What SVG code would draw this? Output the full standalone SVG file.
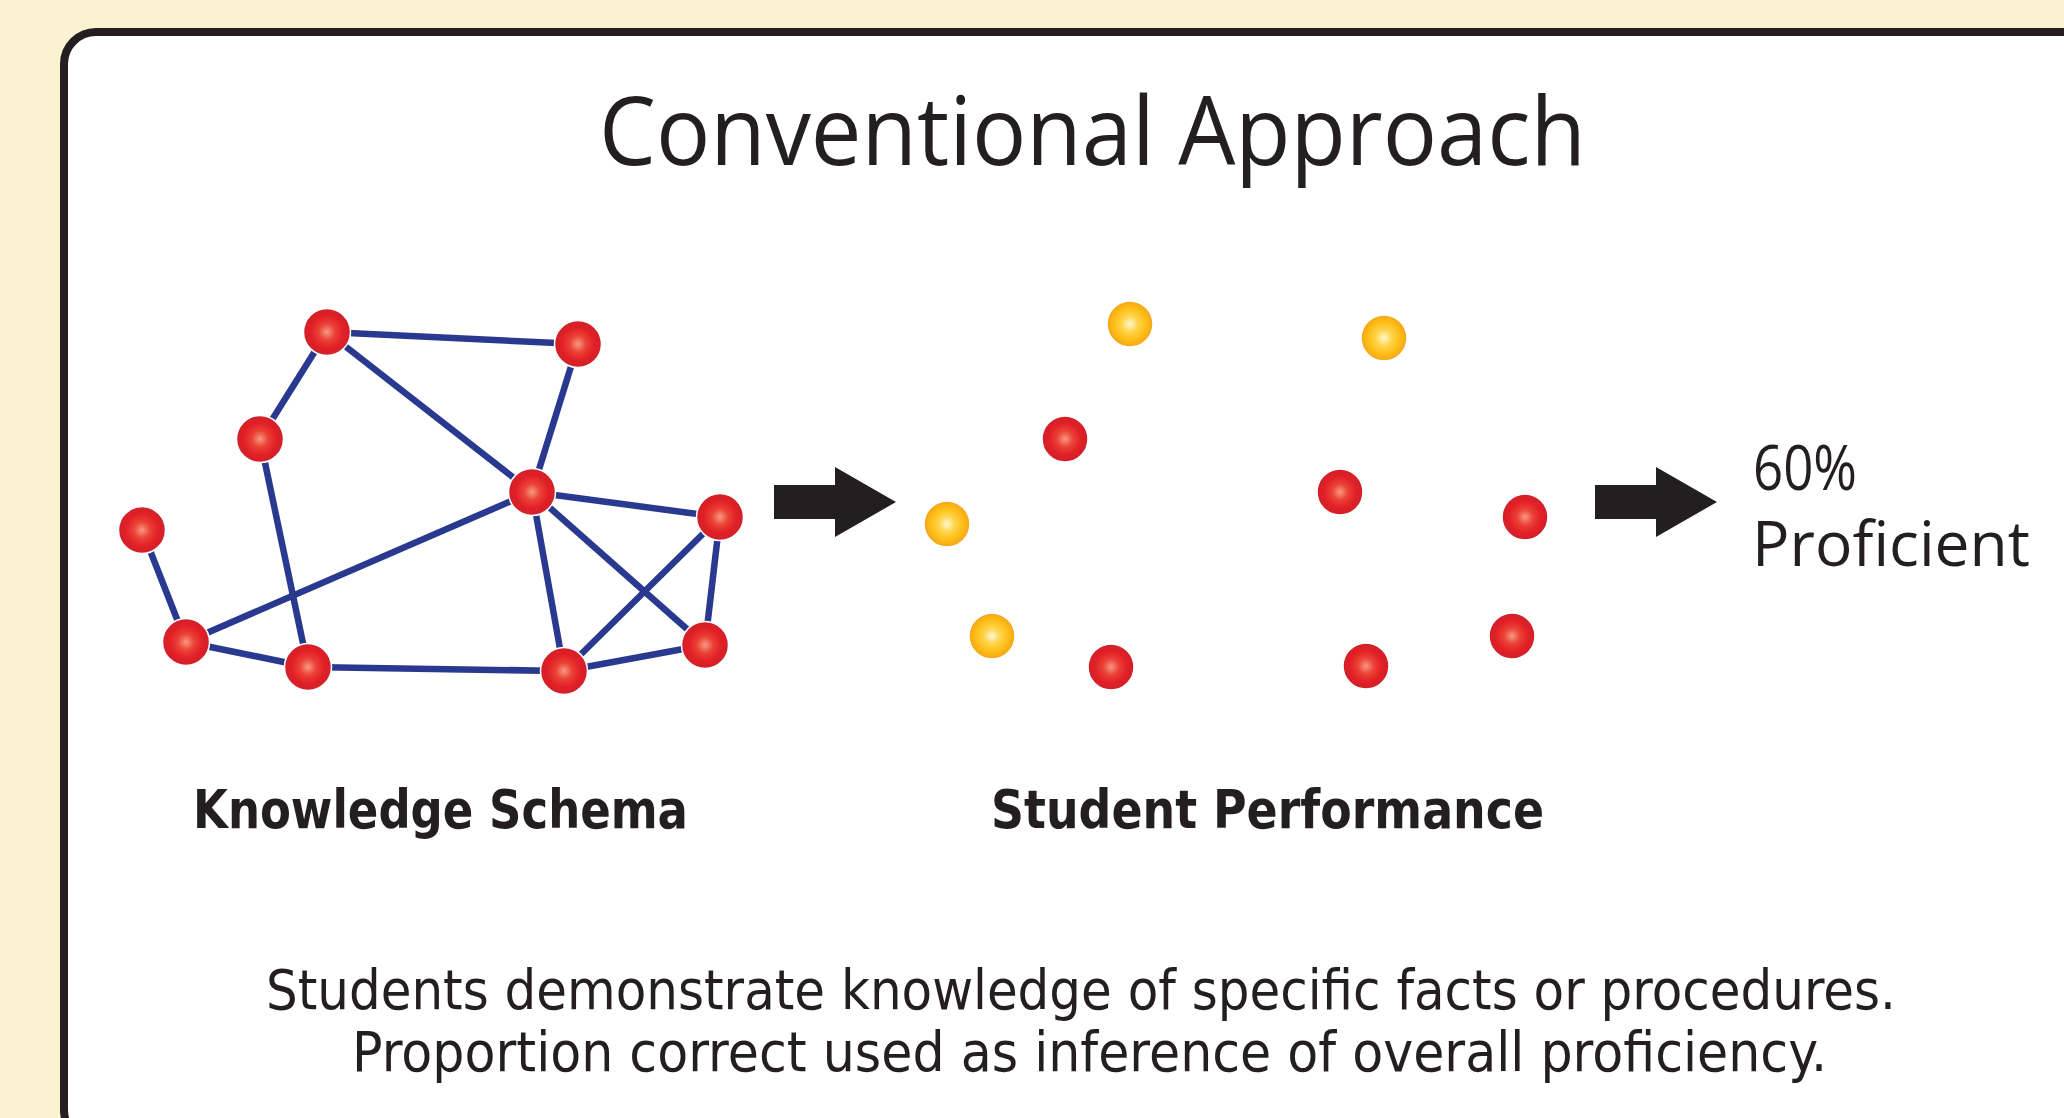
<svg xmlns="http://www.w3.org/2000/svg" xmlns:xlink="http://www.w3.org/1999/xlink" width="2064" height="1118" viewBox="0 0 2064 1118">
  <defs>
    <style>
      .ink { fill: #231F20; }
      .title { font-family: "Open Sans", "Noto Sans", "DejaVu Sans", sans-serif; font-size: 96px; fill: #231F20; }
      .label { font-family: "DejaVu Sans", "Noto Sans", sans-serif; font-weight: bold; font-size: 53px; fill: #231F20; }
      .result { font-family: "Open Sans", "Noto Sans", "DejaVu Sans", sans-serif; font-size: 62px; fill: #231F20; }
      .body { font-family: "DejaVu Sans", "Noto Sans", sans-serif; font-size: 56px; fill: #231F20; }
      .edge { stroke: #2A3990; stroke-width: 6.5; stroke-linecap: butt; fill: none; }
      .red { fill: url(#redBall); stroke: #ffffff; stroke-width: 1.5; }
      .gold { fill: url(#goldBall); stroke: #ffffff; stroke-width: 1.5; }
    </style>
    <radialGradient id="redBall" cx="50%" cy="50%" r="50%">
      <stop offset="0" stop-color="#F79A80"/>
      <stop offset="0.35" stop-color="#EB4236"/>
      <stop offset="0.7" stop-color="#E21F26"/>
      <stop offset="1" stop-color="#CF2129"/>
    </radialGradient>
    <radialGradient id="goldBall" cx="50%" cy="50%" r="50%">
      <stop offset="0" stop-color="#FFF7D2"/>
      <stop offset="0.35" stop-color="#FFD54C"/>
      <stop offset="0.72" stop-color="#FDBC14"/>
      <stop offset="1" stop-color="#F4A41E"/>
    </radialGradient>
    <path id="bigArrow" d="M0 -17 H61 V-35 L122 0 L61 35 V17 H0 Z"/>
  </defs>

  <!-- page background and framed panel -->
  <rect x="0" y="0" width="2064" height="1118" fill="#FAF2D1"/>
  <rect x="64" y="32" width="2100" height="1110" rx="32" ry="32" fill="#FFFFFF" stroke="#231F20" stroke-width="8"/>

  <text class="title" x="599" y="165" textLength="987" lengthAdjust="spacingAndGlyphs">Conventional Approach</text>

  <!-- knowledge schema links -->
  <g id="connectors">
    <line class="edge" x1="327" y1="332" x2="578" y2="344"/>
    <line class="edge" x1="327" y1="332" x2="260" y2="439"/>
    <line class="edge" x1="327" y1="332" x2="532" y2="492"/>
    <line class="edge" x1="578" y1="344" x2="532" y2="492"/>
    <line class="edge" x1="260" y1="439" x2="308" y2="667"/>
    <line class="edge" x1="532" y1="492" x2="186" y2="642"/>
    <line class="edge" x1="532" y1="492" x2="720" y2="517"/>
    <line class="edge" x1="532" y1="492" x2="564" y2="671"/>
    <line class="edge" x1="532" y1="492" x2="705" y2="645"/>
    <line class="edge" x1="720" y1="517" x2="564" y2="671"/>
    <line class="edge" x1="720" y1="517" x2="705" y2="645"/>
    <line class="edge" x1="142" y1="530" x2="186" y2="642"/>
    <line class="edge" x1="186" y1="642" x2="308" y2="667"/>
    <line class="edge" x1="308" y1="667" x2="564" y2="671"/>
    <line class="edge" x1="564" y1="671" x2="705" y2="645"/>
  </g>

  <!-- knowledge schema nodes -->
  <g id="node-a"><circle class="red" cx="327" cy="332" r="23.5"/></g>
  <g id="node-b"><circle class="red" cx="578" cy="344" r="23.5"/></g>
  <g id="node-c"><circle class="red" cx="260" cy="439" r="23.5"/></g>
  <g id="node-d"><circle class="red" cx="532" cy="492" r="23.5"/></g>
  <g id="node-e"><circle class="red" cx="720" cy="517" r="23.5"/></g>
  <g id="node-f"><circle class="red" cx="142" cy="530" r="23.5"/></g>
  <g id="node-g"><circle class="red" cx="186" cy="642" r="23.5"/></g>
  <g id="node-h"><circle class="red" cx="308" cy="667" r="23.5"/></g>
  <g id="node-i"><circle class="red" cx="564" cy="671" r="23.5"/></g>
  <g id="node-j"><circle class="red" cx="705" cy="645" r="23.5"/></g>

  <use id="arrow-schema" class="ink" xlink:href="#bigArrow" x="774" y="502"/>

  <!-- student performance items -->
  <g id="item-1"><circle class="gold" cx="1130" cy="324" r="23"/></g>
  <g id="item-2"><circle class="gold" cx="1384" cy="338" r="23"/></g>
  <g id="item-3"><circle class="red" cx="1065" cy="439" r="23"/></g>
  <g id="item-4"><circle class="red" cx="1340" cy="492" r="23"/></g>
  <g id="item-5"><circle class="gold" cx="947" cy="524" r="23"/></g>
  <g id="item-6"><circle class="red" cx="1525" cy="517" r="23"/></g>
  <g id="item-7"><circle class="gold" cx="992" cy="636" r="23"/></g>
  <g id="item-8"><circle class="red" cx="1512" cy="636" r="23"/></g>
  <g id="item-9"><circle class="red" cx="1111" cy="667" r="23"/></g>
  <g id="item-10"><circle class="red" cx="1366" cy="666" r="23"/></g>

  <use id="arrow-result" class="ink" xlink:href="#bigArrow" x="1595" y="502"/>

  <g id="result">
    <text class="result" x="1753" y="490" textLength="104" lengthAdjust="spacingAndGlyphs">60%</text>
    <text class="result" x="1752" y="566" textLength="278" lengthAdjust="spacingAndGlyphs">Proficient</text>
  </g>

  <text class="label" x="193" y="828" textLength="495" lengthAdjust="spacingAndGlyphs">Knowledge Schema</text>
  <text class="label" x="991" y="828" textLength="553" lengthAdjust="spacingAndGlyphs">Student Performance</text>

  <text class="body" x="266" y="1009" textLength="1630" lengthAdjust="spacingAndGlyphs">Students demonstrate knowledge of specific facts or procedures.</text>
  <text class="body" x="352" y="1071" textLength="1475" lengthAdjust="spacingAndGlyphs">Proportion correct used as inference of overall proficiency.</text>
</svg>
